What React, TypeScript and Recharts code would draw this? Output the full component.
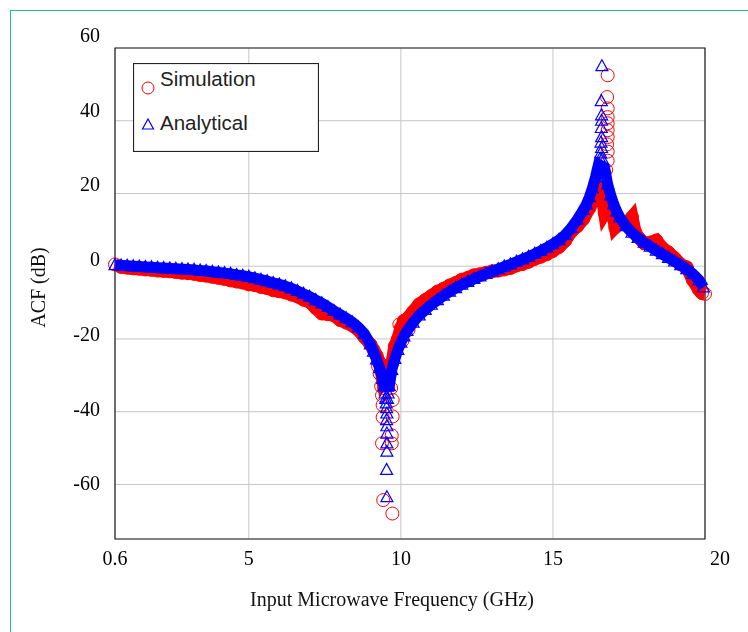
import React from 'react'
import { CartesianGrid, Label, ReferenceArea, Scatter, ScatterChart, XAxis, YAxis } from 'recharts'

// values, GHz / dB
const xTicks = [0.6, 5, 10, 15, 20]
const yTicks = [-60, -40, -20, 0, 20, 40, 60]

const analyticalFreq = [
	0.6, 0.8, 1.0, 1.2, 1.4, 1.6, 1.8, 2.0, 2.2, 2.4, 2.6, 2.8, 3.0, 3.2, 3.4, 3.6, 3.8, 4.0, 4.2, 4.4,
	4.6, 4.8, 5.0, 5.2, 5.4, 5.6, 5.8, 6.0, 6.2, 6.4, 6.6, 6.8, 7.0, 7.2, 7.4, 7.6, 7.8, 8.0, 8.2, 8.4,
	8.6, 8.8, 9.0, 9.1, 9.2, 9.3, 9.4, 9.45, 9.62, 9.7, 9.8, 9.9, 10.0, 10.1, 10.2, 10.4, 10.6, 10.8, 11.0, 11.2,
	11.4, 11.6, 11.8, 12.0, 12.2, 12.4, 12.6, 12.8, 13.0, 13.2, 13.4, 13.6, 13.8, 14.0, 14.2, 14.4, 14.6, 14.8, 15.0, 15.2,
	15.4, 15.6, 15.8, 16.0, 16.1, 16.2, 16.3, 16.4, 16.5, 16.7, 16.8, 16.9, 17.0, 17.1, 17.2, 17.4, 17.6, 17.8, 18.0, 18.2,
	18.4, 18.6, 18.8, 19.0, 19.2, 19.4, 19.6, 19.8, 19.95,
]
const analyticalDb = [
	0.3, 0.2, 0.1, 0.0, -0.1, -0.2, -0.3, -0.4, -0.5, -0.6, -0.7, -0.8, -0.9, -1.0, -1.2, -1.3, -1.5, -1.7, -1.9, -2.1,
	-2.4, -2.6, -2.9, -3.3, -3.7, -4.1, -4.6, -5.0, -5.5, -6.1, -6.8, -7.6, -8.4, -9.3, -10.2, -11.2, -12.3, -13.3, -14.3, -15.4,
	-16.8, -18.6, -21.5, -23.5, -25.6, -28.0, -31.0, -33.0, -33.0, -28.5, -25.5, -23.0, -21.0, -19.3, -17.8, -15.5, -13.5, -12.0, -10.6, -9.3,
	-8.1, -7.0, -6.0, -5.1, -4.3, -3.5, -2.8, -2.1, -1.4, -0.8, -0.1, 0.5, 1.2, 1.9, 2.6, 3.4, 4.2, 5.1, 6.1, 7.2,
	8.6, 10.5, 12.8, 15.5, 17.0, 19.0, 21.5, 24.5, 28.0, 27.0, 22.5, 19.5, 17.0, 15.0, 13.4, 11.0, 9.2, 7.8, 6.5, 5.4,
	4.3, 3.3, 2.3, 1.3, 0.3, -0.8, -2.1, -3.8, -5.8,
]

// single triangles that stack up in the notch and at the resonance
const analyticalSpikeFreq = [
	9.48, 9.58, 9.5, 9.56, 9.52, 9.53, 9.54, 9.53, 9.54, 9.54, 9.54, 9.54, 9.53, 9.54,
	16.55, 16.62, 16.57, 16.6, 16.58, 16.6, 16.59, 16.6, 16.6, 16.59, 16.61,
]
const analyticalSpikeDb = [
	-35, -35, -36.5, -36.5, -37.7, -39, -40.5, -42.3, -44, -46, -48.7, -51, -56, -63.5,
	29.5, 29.5, 31, 32.5, 34, 35.5, 38, 40, 41.5, 45.4, 55,
]

const simulationFreq = [
	0.6, 0.8, 1.0, 1.2, 1.4, 1.6, 1.8, 2.0, 2.2, 2.4, 2.6, 2.8, 3.0, 3.2, 3.4, 3.6, 3.8, 4.0, 4.2, 4.4,
	4.6, 4.8, 5.0, 5.2, 5.4, 5.6, 5.8, 6.0, 6.2, 6.4, 6.6, 6.8, 7.0, 7.2, 7.4, 7.6, 7.8, 8.0, 8.2, 8.4,
	8.6, 8.8, 9.0, 9.1, 9.2, 9.3, 9.35, 9.4, 9.7, 9.8, 9.9, 10.0, 10.1, 10.2, 10.4, 10.6, 10.8, 11.0, 11.2, 11.4,
	11.6, 11.8, 12.0, 12.2, 12.4, 12.6, 12.8, 13.0, 13.2, 13.4, 13.6, 13.8, 14.0, 14.2, 14.4, 14.6, 14.8, 15.0, 15.2, 15.4,
	15.6, 15.8, 16.0, 16.2, 16.4, 16.55, 16.7, 16.8, 16.9, 17.0, 17.05, 17.2, 17.4, 17.6, 17.7, 17.8, 18.0, 18.2, 18.4, 18.6,
	18.8, 19.0, 19.2, 19.4, 19.6, 19.8, 19.9, 20.0,
]
const simulationDb = [
	0.5, -0.2, -0.4, -0.6, -0.7, -0.9, -1.0, -1.2, -1.3, -1.4, -1.6, -1.8, -1.9, -2.1, -2.4, -2.6, -2.9, -3.2, -3.5, -3.9,
	-4.2, -4.5, -5.0, -5.2, -5.7, -6.0, -6.6, -6.9, -7.2, -7.8, -8.3, -9.2, -9.8, -11.5, -13.0, -13.2, -13.5, -14.8, -15.5, -16.3,
	-17.5, -19.5, -21.5, -23.0, -24.5, -26.5, -28.5, -31.0, -27.0, -22.0, -20.0, -17.0, -15.0, -14.5, -12.5, -10.5, -9.3, -8.2, -7.0, -6.2,
	-5.3, -4.6, -3.7, -3.2, -2.5, -2.2, -1.8, -1.4, -1.2, -0.9, -0.5, 0.2, 0.6, 1.2, 2.0, 2.6, 3.3, 4.2, 5.3, 7.0,
	9.5, 11.0, 13.0, 16.0, 19.5, 23.0, 14.6, 16.0, 17.0, 13.0, 10.7, 12.0, 11.5, 13.5, 9.5, 8.0, 6.3, 6.5, 7.1, 5.0,
	3.8, 2.2, 0.5, -0.3, -3.8, -6.5, -7.4, -7.6,
]

const simulationSpikeFreq = [
	9.25, 9.3, 9.35, 9.38, 9.4, 9.4, 9.38, 9.42, 9.72, 9.7, 9.7, 9.73, 9.73, 9.68, 9.62, 9.5, 9.45, 10.05, 9.95, 10.25,
	16.6, 16.7, 16.75, 16.8, 16.8, 16.78, 16.8, 16.8, 16.8, 16.8, 16.8, 16.78, 16.8, 16.62,
]
const simulationSpikeDb = [
	-27.5, -29.5, -33, -35.5, -38.2, -41.5, -48.7, -64.3, -68, -48.7, -46.5, -41.3, -36.8, -33.5, -30, -31, -33.5, -20.5, -16, -17.5,
	24, 20.5, 26.5, 29, 31.5, 33.5, 35.5, 37.4, 39.3, 41, 43.4, 46.5, 52.5, 17.5,
]

const toPoints = (freq: number[], db: number[]) => freq.map((f, i) => ({ f, v: db[i] }))

const analyticalBand = toPoints(analyticalFreq, analyticalDb)
const analyticalSpikes = toPoints(analyticalSpikeFreq, analyticalSpikeDb)
const simulationBand = toPoints(simulationFreq, simulationDb)
const simulationSpikes = toPoints(simulationSpikeFreq, simulationSpikeDb)

const RED = '#ff0000'
const BLUE = '#0000ff'
const serif = '"Liberation Serif", "Times New Roman", serif'
const sans = '"Liberation Sans", Arial, sans-serif'

const Ring = (p: any) => <circle cx={p.cx} cy={p.cy} r={6.5} fill='none' stroke={RED} strokeWidth={1} />

const Triangle = (p: any) => (
	<path d={`M${p.cx},${p.cy - 6.5} L${p.cx + 6},${p.cy + 4.5} L${p.cx - 6},${p.cy + 4.5} Z`} fill='none' stroke={BLUE} strokeWidth={1.2} />
)

const XTick = ({ x, y, payload }: any) => {
	const last = payload.value === 20
	return (
		<text x={last ? x + 5 : x} y={y} dy='0.71em' textAnchor={last ? 'start' : 'middle'} fontFamily={serif} fontSize={20} fill='#000'>
			{payload.value}
		</text>
	)
}

// the labels in the source sit a little above their grid lines, more so near the top
const YTick = ({ x, y, payload }: any) => (
	<text x={x} y={y - 7 - payload.value * 0.1} dy='0.35em' textAnchor='end' fontFamily={serif} fontSize={20} fill='#000'>
		{payload.value}
	</text>
)

const XTitle = (p: any) => {
	const vb = p.viewBox
	return (
		<text x={vb.x + vb.width / 2 - 18} y={vb.y + 67} textAnchor='middle' fontFamily={serif} fontSize={20} fill='#111'>
			Input Microwave Frequency (GHz)
		</text>
	)
}

const YTitle = (p: any) => {
	const vb = p.viewBox
	const cx = vb.x + 30
	const cy = vb.y + vb.height / 2 - 6
	return (
		<text x={cx} y={cy} transform={`rotate(-90 ${cx} ${cy})`} textAnchor='middle' dominantBaseline='central' fontFamily={serif} fontSize={20} fill='#111'>
			ACF (dB)
		</text>
	)
}

const LegendBox = () => (
	<svg width={186} height={89} style={{ position: 'absolute', left: 125, top: 55 }}>
		<rect x={0.5} y={0.5} width={185} height={88} fill='#fff' stroke='#222' strokeWidth={1.2} />
		<circle cx={15} cy={25} r={6} fill='none' stroke={RED} strokeWidth={1} />
		<text x={27} y={23} fontFamily={sans} fontSize={20.5} fill='#222'>Simulation</text>
		<path d='M15,56 L20.5,66 L9.5,66 Z' fill='none' stroke={BLUE} strokeWidth={1.2} />
		<text x={27} y={67} fontFamily={sans} fontSize={20.5} fill='#222'>Analytical</text>
	</svg>
)

const App = () => {
	return (
		<>
			<div style={{ position: 'fixed', left: 10, top: 10, width: 900, height: 900, borderLeft: '1.5px solid #1fbf83', borderTop: '1.5px solid #1fbf83' }} />
			<div style={{ position: 'relative', width: 740, height: 624 }}>
				<ScatterChart width={740} height={624} margin={{ top: 40, right: 43, left: 0, bottom: 0 }}>
					<CartesianGrid stroke='#c6c6c6' strokeWidth={1} />
					<XAxis
						type='number'
						dataKey='f'
						domain={[0.6, 20]}
						ticks={xTicks}
						interval={0}
						height={93}
						axisLine={false}
						tickLine={false}
						tickSize={0}
						tickMargin={12}
						tick={<XTick />}
					>
						<Label content={<XTitle />} />
					</XAxis>
					<YAxis
						type='number'
						dataKey='v'
						domain={[-75, 60]}
						ticks={yTicks}
						interval={0}
						width={107}
						axisLine={false}
						tickLine={false}
						tickSize={0}
						tickMargin={15}
						tick={<YTick />}
					>
						<Label content={<YTitle />} />
					</YAxis>
					<ReferenceArea x1={0.6} x2={20} y1={-75} y2={60} fill='none' stroke='#222' strokeWidth={1.2} ifOverflow='visible' />
					<Scatter name='Simulation' data={simulationBand} shape={Ring} line={{ stroke: RED, strokeWidth: 13 }} lineType='joint' isAnimationActive={false} />
					<Scatter name='Simulation' data={simulationSpikes} shape={Ring} isAnimationActive={false} />
					<Scatter name='Analytical' data={analyticalBand} shape={Triangle} line={{ stroke: BLUE, strokeWidth: 11 }} lineType='joint' isAnimationActive={false} />
					<Scatter name='Analytical' data={analyticalSpikes} shape={Triangle} isAnimationActive={false} />
				</ScatterChart>
				<LegendBox />
			</div>
		</>
	)
}

export default App
